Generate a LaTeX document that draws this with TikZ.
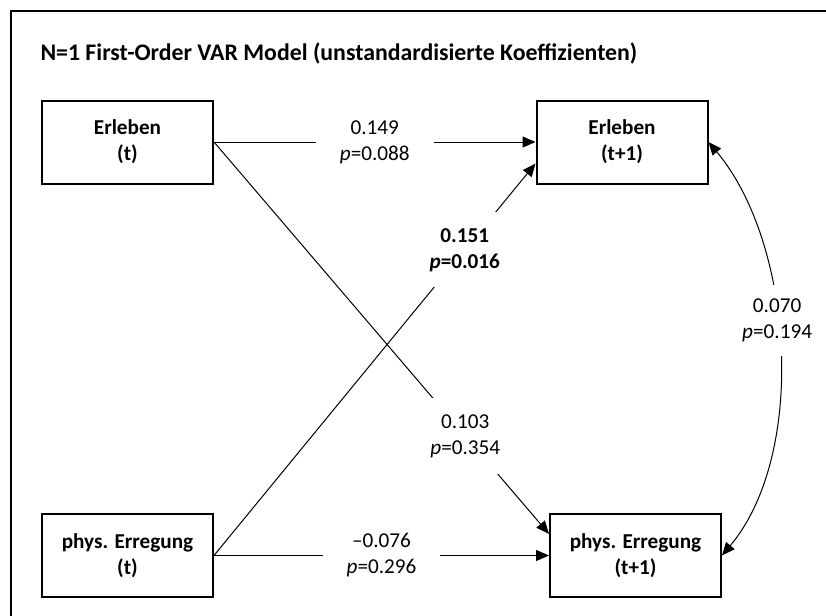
\documentclass[tikz,border=0pt]{standalone}
\usepackage{fontspec}
\setmainfont{Carlito}
\usetikzlibrary{%
  arrows.meta,%
  positioning,% wg. " of "
  calc%
}

\begin{document}
\begin{tikzpicture}[
  x=0.5pt, y=-0.5pt,
  >={Triangle[length=6.5pt,width=5.5pt]},
  line width=0.5pt,
  font=\fontsize{10.6}{13}\selectfont,
  var/.style={draw, line width=1pt, minimum width=85.5pt, minimum height=41.5pt,
    align=center, font=\fontsize{10.6}{13}\selectfont\bfseries},
  coef/.style={fill=white, align=center, inner xsep=12pt, inner ysep=8pt},
]
\useasboundingbox (0,0) rectangle (826,616);
\draw[line width=1pt] (11,616) -- (11,11) -- (826,11);

\node[anchor=west, inner sep=0pt, font=\fontsize{11.9}{14}\selectfont\bfseries] (title) at (40,53)
  {N=1 First-Order VAR Model (unstandardisierte Koeffizienten)};

\node[var] (erl0) at (127.5,142) {Erleben\\(t)};
\node[var] (erl1) at (622,142) {Erleben\\(t+1)};
\node[var] (pe0) at (127.5,555.5) {phys. Erregung\\(t)};
\node[var] (pe1) at (635.5,555.5) {phys. Erregung\\(t+1)};

% autoregressive
\draw[->] (erl0.east) -- node[coef] {0.149\\\textit{p}=0.088} (erl1.west);
\draw[->] (pe0.east) -- node[coef] {\textendash0.076\\\textit{p}=0.296} (pe1.west);

% cross-lagged
\draw[->] (erl0.east) -- node[coef, pos=0.75] {0.103\\\textit{p}=0.354} (pe1.166);
\draw[->] (pe0.east) -- node[coef, pos=0.78] {\textbf{0.151}\\\textbf{\textit{p}=0.016}} (erl1.194);

% residual covariance
\draw[<->] (erl1.east) to[out=-50, in=50, looseness=0.82]
  node[coef, pos=0.44, inner ysep=7pt] {0.070\\\textit{p}=0.194} (pe1.east);

\end{tikzpicture}
\end{document}
